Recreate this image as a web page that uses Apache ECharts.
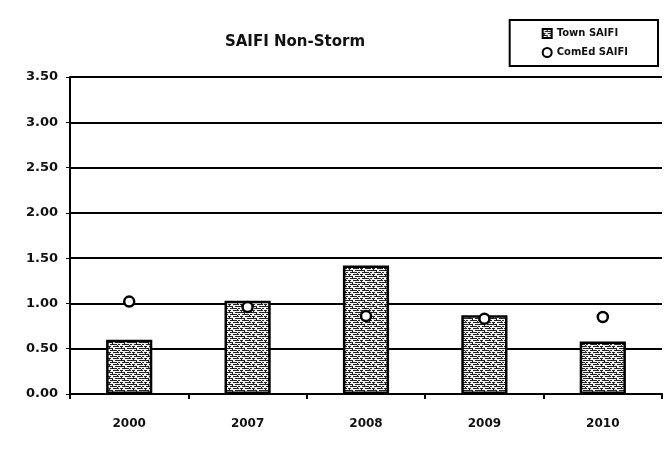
<!DOCTYPE html>
<html>
<head>
<meta charset="utf-8">
<script src="https://cdn.jsdelivr.net/npm/echarts@6/dist/echarts.min.js"></script>
<style>
  html, body { margin: 0; padding: 0; background: #fff; }
  #chart { width: 664px; height: 449px; }
</style>
</head>
<body>
<div id="chart"></div>
<script>
// 年份
const years = ["2000", "2007", "2008", "2009", "2010"];
// Town SAIFI (柱)
const townSaifi = [0.6, 1.03, 1.42, 0.87, 0.58];
// ComEd SAIFI (点)
const comedSaifi = [1.02, 0.96, 0.86, 0.83, 0.85];

// 柱子纹理
const makePattern = () => {
  const c = document.createElement("canvas");
  c.width = 12;
  c.height = 6;
  const ctx = c.getContext("2d");
  ctx.fillStyle = "#f2f2f2";
  ctx.fillRect(0, 0, 12, 6);
  ctx.fillStyle = "#222";
  ctx.fillRect(0, 0, 5, 1);
  ctx.fillRect(7, 0, 5, 1);
  ctx.fillRect(2, 2, 7, 1);
  ctx.fillRect(10, 2, 2, 1);
  ctx.fillRect(0, 4, 3, 1);
  ctx.fillRect(5, 4, 6, 1);
  ctx.fillRect(4, 1, 1, 1);
  ctx.fillRect(9, 3, 1, 1);
  ctx.fillRect(1, 5, 1, 1);
  return c;
};

const font = "DejaVu Sans";
const myChart = echarts.init(document.getElementById("chart"));
const option = {
  backgroundColor: "#fff",
  animation: false,
  title: {
    text: "SAIFI Non-Storm",
    left: 290,
    top: 30,
    textAlign: "center",
    textStyle: { fontFamily: font, fontWeight: "bold", fontSize: 15, color: "#111" },
  },
  legend: {
    orient: "vertical",
    right: 6,
    top: 20,
    width: 165,
    padding: [8, 30, 8, 32],
    itemGap: 8,
    itemWidth: 9,
    itemHeight: 9,
    borderColor: "#000",
    borderWidth: 2,
    textStyle: { fontFamily: font, fontWeight: "bold", fontSize: 10, color: "#111" },
    data: [
      { name: "Town SAIFI", icon: "rect" },
      { name: "ComEd SAIFI", icon: "circle" },
    ],
  },
  grid: { left: 70, right: 2, top: 77, bottom: 55 },
  xAxis: {
    type: "category",
    data: years,
    axisLine: { lineStyle: { color: "#000", width: 2 } },
    axisTick: { show: true, length: 5, lineStyle: { color: "#000", width: 2 } },
    axisLabel: {
      margin: 24,
      fontFamily: font,
      fontWeight: "bold",
      fontSize: 12,
      color: "#111",
    },
  },
  yAxis: {
    type: "value",
    min: 0,
    max: 3.5,
    interval: 0.5,
    axisLine: { show: true, lineStyle: { color: "#000", width: 2 } },
    axisTick: { show: true, length: 4, lineStyle: { color: "#000", width: 1 } },
    splitLine: { lineStyle: { color: "#000", width: 2 } },
    axisLabel: {
      margin: 12,
      fontFamily: font,
      fontWeight: "bold",
      fontSize: 13,
      color: "#111",
      formatter: (v) => v.toFixed(2),
    },
  },
  series: [
    {
      name: "Town SAIFI",
      type: "bar",
      barWidth: "39%",
      data: townSaifi,
      itemStyle: {
        color: { image: makePattern(), repeat: "repeat" },
        borderColor: "#000",
        borderWidth: 2.5,
      },
    },
    {
      name: "ComEd SAIFI",
      type: "scatter",
      symbol: "circle",
      symbolSize: 10,
      data: comedSaifi,
      itemStyle: { color: "#fff", borderColor: "#000", borderWidth: 2.5, opacity: 1 },
      z: 5,
    },
  ],
};
myChart.setOption(option);
</script>
</body>
</html>
